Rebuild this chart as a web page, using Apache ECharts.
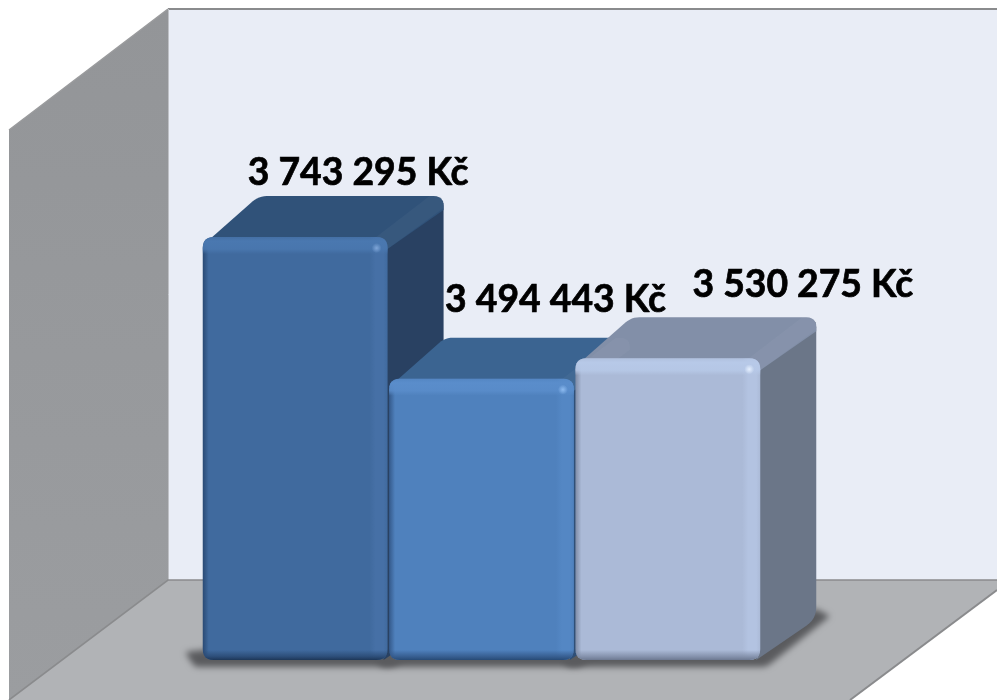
<!DOCTYPE html>
<html>
<head>
<meta charset="utf-8">
<style>html,body{margin:0;padding:0;background:#fff}#chart{width:997px;height:700px}</style>
<script src="https://cdn.jsdelivr.net/npm/echarts@6/dist/echarts.min.js"></script>
</head>
<body>
<div id="chart"></div>
<script>
// Values in CZK, one box per category
const categories = ['A', 'B', 'C'];
const values = [3743295, 3494443, 3530275];

// Label displacement from the top-centre of each box
const labelShiftX = [63, 74, 135];
const labelShiftY = [-64, -79, -73];

// Box colours
const palettes = [
  { front: '#406A9E', hi: '#4A78B0', rim: '#4670A6', spot: '#7FA6D8', edge: '#2A4A74', low: '#1D3657', top: '#305279', side: '#294162' },
  { front: '#4F81BD', hi: '#5A8DCB', rim: '#5487C4', spot: '#8DBBF0', edge: '#34598A', low: '#274A75', top: '#3B6491', side: '#2F4F77' },
  { front: '#ABBAD7', hi: '#B7C9E8', rim: '#B3C3E1', spot: '#E6F0FF', edge: '#7F8CA6', low: '#6C7890', top: '#828FA8', side: '#6B7688' }
];

const DEPTH_X = 56;
const DEPTH_Y = -41;
// Shadows are cast from a copy parked off-canvas, so only the soft blur shows
const SHADOW_PARK = 3000;

// Polygon with its corners replaced by sampled quadratic curves
function roundPoly(pts, radii) {
  const out = [];
  const n = pts.length;
  pts.forEach((p, i) => {
    const r = radii[i];
    if (!r) { out.push(p); return; }
    const a = pts[(i + n - 1) % n], b = pts[(i + 1) % n];
    const la = Math.hypot(a[0] - p[0], a[1] - p[1]), lb = Math.hypot(b[0] - p[0], b[1] - p[1]);
    const s = [p[0] + (a[0] - p[0]) * r / la, p[1] + (a[1] - p[1]) * r / la];
    const e = [p[0] + (b[0] - p[0]) * r / lb, p[1] + (b[1] - p[1]) * r / lb];
    for (let k = 0; k <= 6; k++) {
      const t = k / 6, u = 1 - t;
      out.push([u * u * s[0] + 2 * u * t * p[0] + t * t * e[0], u * u * s[1] + 2 * u * t * p[1] + t * t * e[1]]);
    }
  });
  return out;
}

function poly(points, style, z2) {
  return { type: 'polygon', shape: { points }, style, z2: z2 || 0, silent: true };
}

function boxGeometry(api) {
  const p = api.coord([api.value(0), api.value(1)]);
  const base = api.coord([api.value(0), 3000000]);
  const w = api.size([1, 0])[0] * 0.992;
  return { x0: p[0] - w / 2, x1: p[0] + w / 2, t: p[1], b: base[1], w, cx: p[0] };
}

function renderShadow(params, api) {
  const { x0, x1, b } = boxGeometry(api);
  const pts = roundPoly([
    [x0 - 18, b - 8], [x0 - 8, b + 7], [x1 + 6, b + 7],
    [x1 + DEPTH_X + 14, b + DEPTH_Y - 3], [x1 + DEPTH_X, b + DEPTH_Y - 10], [x0, b - 10]
  ], [4, 4, 5, 3, 0, 0]).map(q => [q[0] - SHADOW_PARK, q[1]]);
  return poly(pts, {
    fill: '#5A5B5E', shadowBlur: 6, shadowColor: '#5A5B5E', shadowOffsetX: SHADOW_PARK
  });
}

function renderBox(params, api) {
  const i = params.dataIndex;
  const c = palettes[i];
  const { x0, x1, t, b, w, cx } = boxGeometry(api);
  const h = b - t;
  const L = echarts.graphic.LinearGradient;
  const alpha = echarts.color.modifyAlpha;
  const dx = DEPTH_X, dy = DEPTH_Y;

  const side = roundPoly([[x1 - 4, t + 2], [x1 + dx, t + dy], [x1 + dx, b + dy], [x1 - 4, b]], [0, 10, 12, 0]);
  const top = roundPoly([[x0 + 5, t + 4], [x0 + dx, t + dy], [x1 + dx, t + dy], [x1 + dx, t + dy + 14], [x1, t + 12]], [0, 8, 10, 0, 0]);
  const band = roundPoly([[x1 - 14, t + 2], [x1 + dx - 14, t + dy], [x1 + dx, t + dy], [x1 + dx, t + dy + 12], [x1, t + 12]], [0, 0, 10, 0, 0]);
  const face = roundPoly([[x0, t], [x1, t], [x1, b], [x0, b]], [11, 11, 11, 11]);

  const fx = (px) => Math.min(1, px / w);
  const fy = (px) => Math.min(1, px / h);
  const across = new L(0, 0, 1, 0, [
    { offset: 0, color: c.edge },
    { offset: fx(6), color: c.front },
    { offset: 1 - fx(18), color: c.front },
    { offset: 1 - fx(12), color: c.rim },
    { offset: 1 - fx(4), color: c.rim },
    { offset: 1, color: c.front }
  ]);
  const down = new L(0, 0, 0, 1, [
    { offset: 0, color: alpha(c.hi, 0.4) },
    { offset: fy(4), color: alpha(c.hi, 1) },
    { offset: fy(12), color: alpha(c.hi, 0.85) },
    { offset: fy(17), color: alpha(c.hi, 0) },
    { offset: 1 - fy(10), color: alpha(c.edge, 0) },
    { offset: 1 - fy(4), color: alpha(c.edge, 0.8) },
    { offset: 1, color: alpha(c.low, 1) }
  ]);
  const text = values[i].toLocaleString('en-US').replace(/,/g, ' ') + ' Kč';

  return {
    type: 'group',
    children: [
      poly(side, { fill: c.side }, 1),
      poly(top, { fill: c.top }, 2),
      poly(band, { fill: 'rgba(255,255,255,0.035)' }, 3),
      poly(face, { fill: across }, 4),
      poly(face, { fill: down }, 5),
      {
        type: 'circle', silent: true, z2: 6,
        shape: { cx: x1 - 11, cy: t + 11, r: 5 },
        style: {
          fill: new echarts.graphic.RadialGradient(0.5, 0.5, 0.5, [
            { offset: 0, color: alpha(c.spot, 1) },
            { offset: 1, color: alpha(c.spot, 0) }
          ])
        }
      },
      {
        type: 'text', silent: true, z2: 50,
        x: cx + labelShiftX[i], y: t + labelShiftY[i],
        style: {
          text, fill: '#000', stroke: '#000', lineWidth: 0.7,
          align: 'center', verticalAlign: 'middle',
          font: 'bold 37.3px Lato, sans-serif'
        }
      }
    ]
  };
}

const chart = echarts.init(document.getElementById('chart'), null, { renderer: 'canvas' });
const seriesData = categories.map((c, i) => [c, values[i]]);

const wallStroke = '#8A8B8D';
chart.setOption({
  animation: false,
  backgroundColor: '#fff',
  grid: { left: 202, top: 91, width: 559, height: 569 },
  xAxis: { type: 'category', data: categories, show: false },
  yAxis: { type: 'value', min: 3000000, max: 4000000, interval: 200000, show: false },
  // Room behind the boxes: back wall, side wall, floor
  graphic: [
    { type: 'polygon', z: -10, silent: true, shape: { points: [[168, 9], [997, 9], [997, 581], [168, 581]] }, style: { fill: '#E9EDF6' } },
    {
      type: 'polygon', z: -9, silent: true,
      shape: { points: [[9, 130], [168, 9], [168, 580], [9, 700]] },
      style: {
        fill: new echarts.graphic.LinearGradient(0, 0, 0, 1, [
          { offset: 0, color: '#939598' },
          { offset: 1, color: '#9B9DA0' }
        ])
      }
    },
    { type: 'polygon', z: -8, silent: true, shape: { points: [[168, 580], [997, 580], [997, 590], [850, 700], [9, 700]] }, style: { fill: '#B1B3B6' } },
    { type: 'polyline', z: -7, silent: true, shape: { points: [[9, 130], [168, 9]] }, style: { stroke: '#9A9B9D', lineWidth: 1.5, fill: null } },
    { type: 'line', z: -7, silent: true, shape: { x1: 168, y1: 9, x2: 997, y2: 9 }, style: { stroke: wallStroke, lineWidth: 2 } },
    { type: 'line', z: -7, silent: true, shape: { x1: 168.5, y1: 9, x2: 168.5, y2: 580 }, style: { stroke: '#BFC1C6', lineWidth: 1 } },
    { type: 'polyline', z: -7, silent: true, shape: { points: [[9, 700], [168, 580], [997, 580]] }, style: { stroke: wallStroke, lineWidth: 1.6, fill: null } },
    { type: 'line', z: -7, silent: true, shape: { x1: 997, y1: 590, x2: 850, y2: 700 }, style: { stroke: wallStroke, lineWidth: 2 } }
  ],
  series: [
    { type: 'custom', z: 1, silent: true, clip: false, renderItem: renderShadow, data: seriesData, encode: { x: 0, y: 1 } },
    { type: 'custom', z: 2, silent: true, clip: false, renderItem: renderBox, data: seriesData, encode: { x: 0, y: 1 } }
  ]
});
</script>
</body>
</html>
